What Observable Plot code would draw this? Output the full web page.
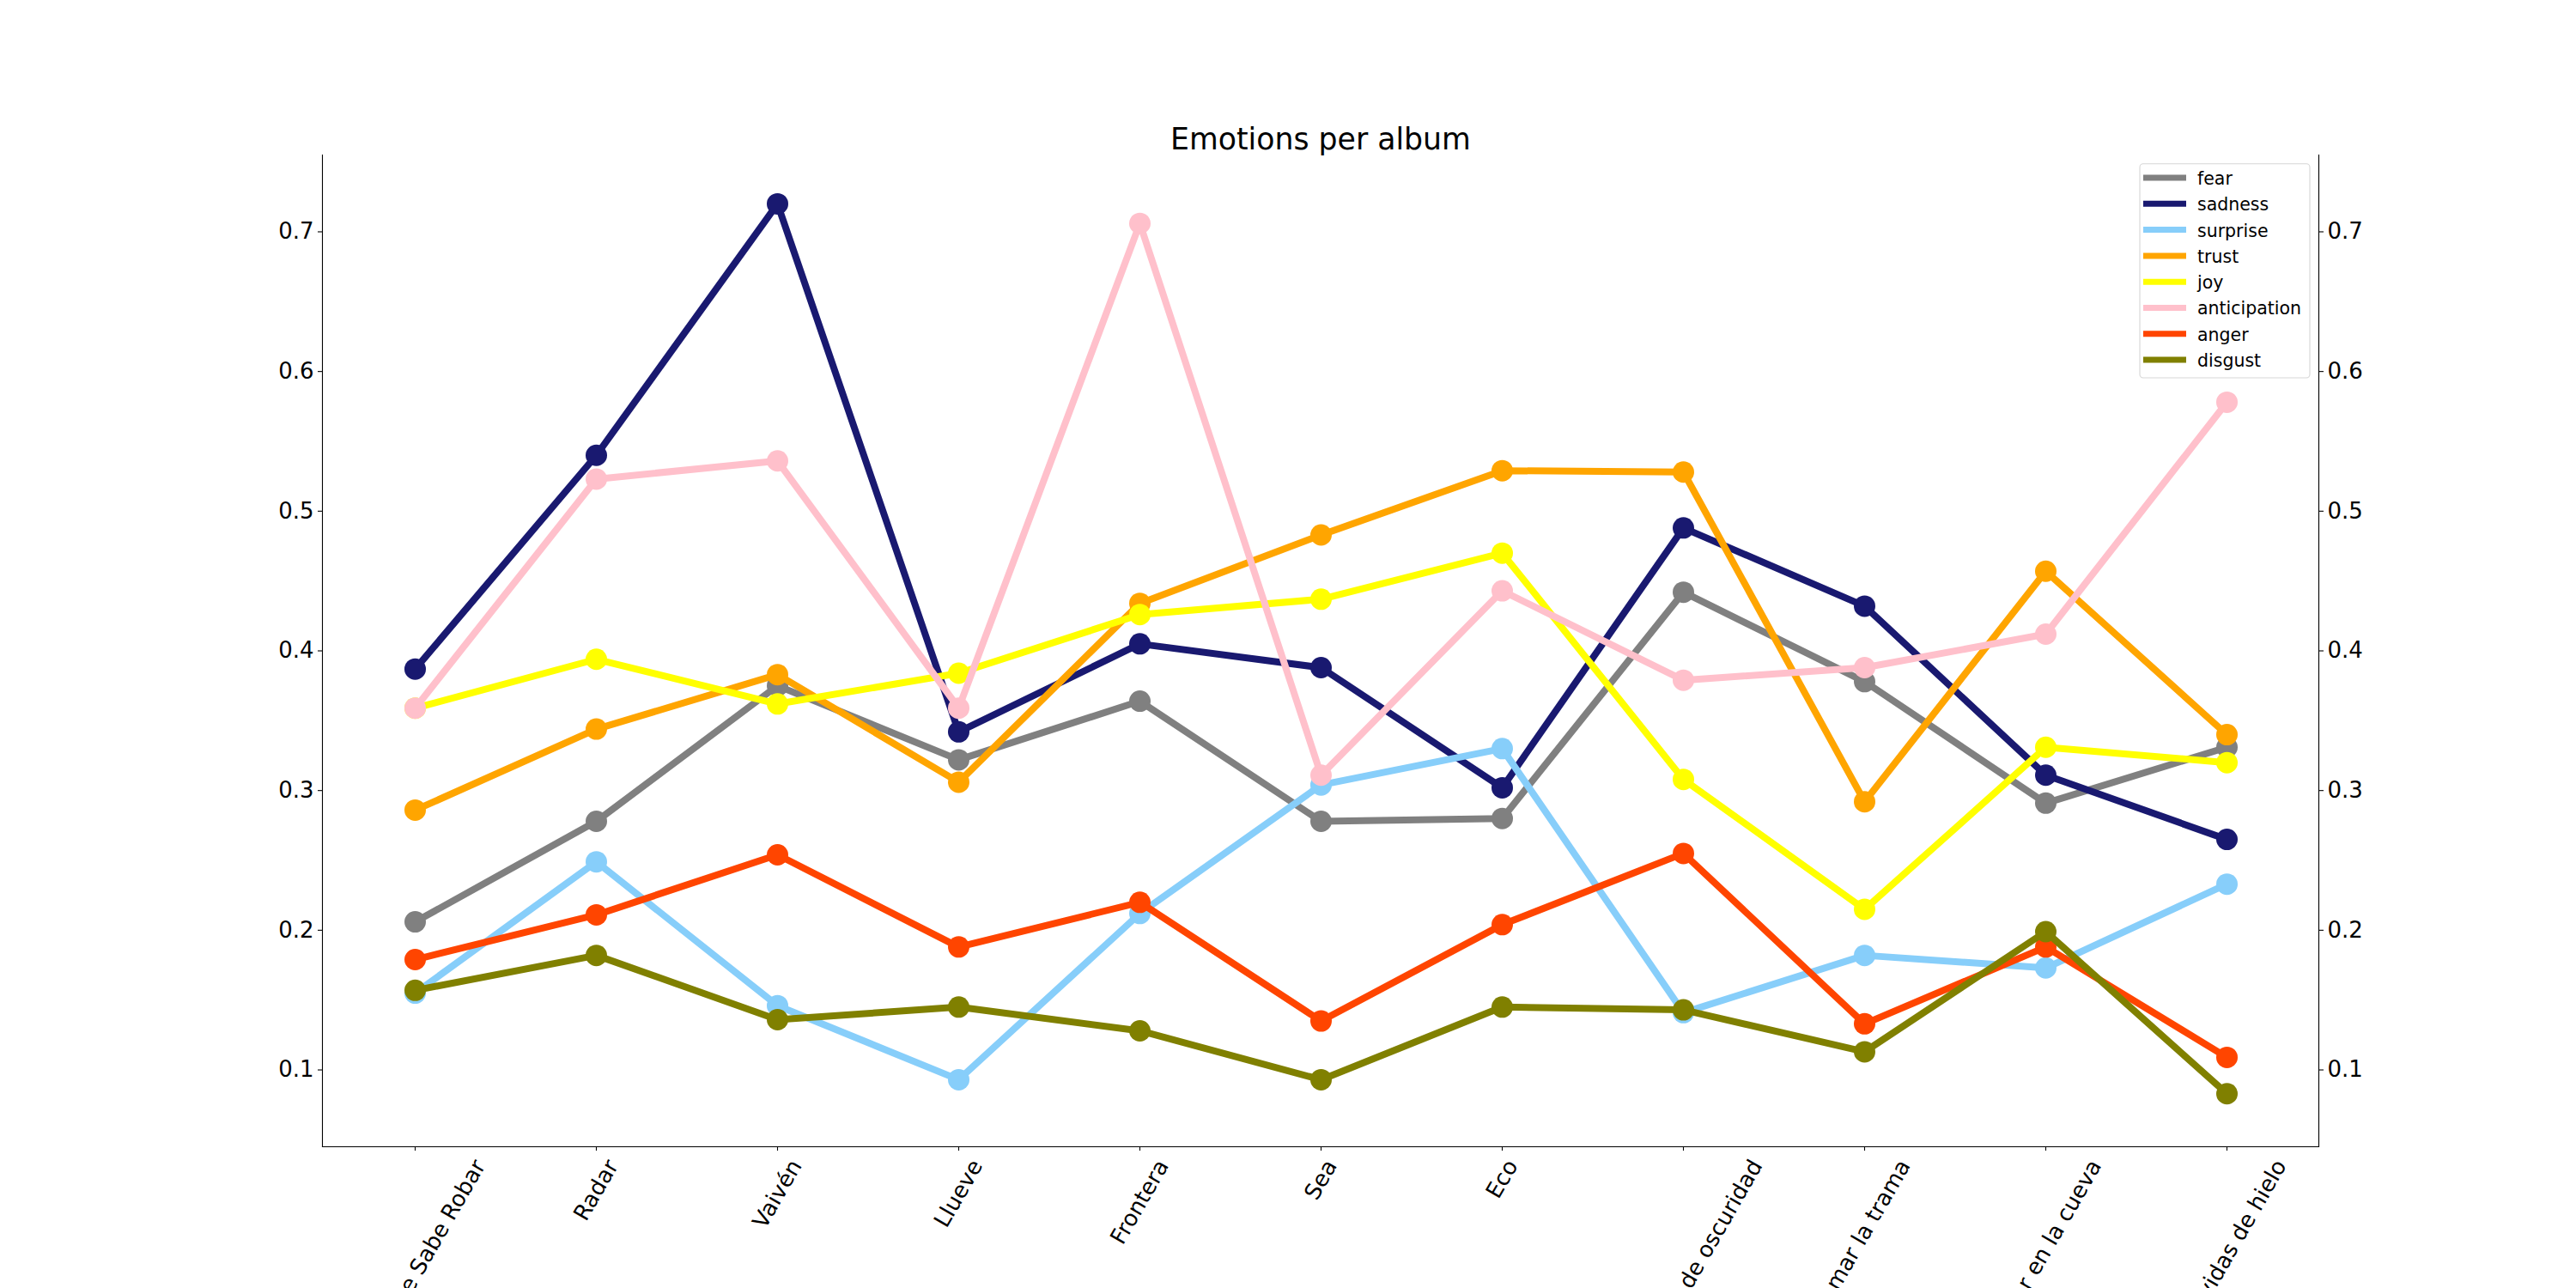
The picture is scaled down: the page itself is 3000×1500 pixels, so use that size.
<!DOCTYPE html>
<html>
<head>
<meta charset="utf-8">
<script src="https://cdn.jsdelivr.net/npm/d3@7"></script>
<script src="https://cdn.jsdelivr.net/npm/@observablehq/plot@0.6"></script>
<style>
  html, body { margin: 0; padding: 0; background: white; }
  #chart { position: relative; width: 3000px; height: 1500px; overflow: hidden; }
</style>
</head>
<body>
<div id="chart"></div>
<script>
const albums = ["La Luz Que Sabe Robar", "Radar", "Vaivén", "Llueve", "Frontera", "Sea", "Eco",
  "12 segundos de oscuridad", "Amar la trama", "Bailar en la cueva", "Salvavidas de hielo"];
const emotions = ["fear", "sadness", "surprise", "trust", "joy", "anticipation", "anger", "disgust"];
const colors = ["grey", "midnightblue", "lightskyblue", "orange", "yellow", "pink", "orangered", "olive"];

const fear         = [0.206, 0.278, 0.375, 0.322, 0.364, 0.278, 0.280, 0.442, 0.378, 0.291, 0.331];
const sadness      = [0.387, 0.540, 0.720, 0.342, 0.405, 0.388, 0.302, 0.488, 0.432, 0.311, 0.265];
const surprise     = [0.155, 0.249, 0.146, 0.093, 0.212, 0.304, 0.330, 0.141, 0.182, 0.173, 0.233];
const trust        = [0.286, 0.344, 0.383, 0.306, 0.434, 0.483, 0.529, 0.528, 0.292, 0.457, 0.340];
const joy          = [0.359, 0.394, 0.362, 0.384, 0.426, 0.437, 0.470, 0.308, 0.215, 0.331, 0.320];
const anticipation = [0.359, 0.523, 0.536, 0.359, 0.706, 0.311, 0.443, 0.379, 0.388, 0.412, 0.578];
const anger        = [0.179, 0.211, 0.254, 0.188, 0.220, 0.135, 0.204, 0.255, 0.133, 0.188, 0.109];
const disgust      = [0.157, 0.182, 0.136, 0.145, 0.128, 0.093, 0.145, 0.143, 0.113, 0.199, 0.083];

const yTicks = [0.1, 0.2, 0.3, 0.4, 0.5, 0.6, 0.7];
const yDomain = [0.045, 0.755];
const title = "Emotions per album";

const seriesValues = [fear, sadness, surprise, trust, joy, anticipation, anger, disgust];

const seriesMarks = [];
emotions.forEach((name, i) => {
  const rows = albums.map((a, j) => ({album: a, value: seriesValues[i][j], emotion: name}));
  seriesMarks.push(Plot.line(rows, {x: "album", y: "value", stroke: colors[i], strokeWidth: 8,
    strokeLinejoin: "round", strokeLinecap: "round"}));
  seriesMarks.push(Plot.dot(rows, {x: "album", y: "value", fill: colors[i], r: 12.5, stroke: null}));
});

const tickFont = 26;
const plot = Plot.plot({
  width: 3000,
  height: 1500,
  marginLeft: 375,
  marginRight: 300,
  marginTop: 180,
  marginBottom: 165,
  x: {type: "point", domain: albums, padding: 0.5},
  y: {domain: yDomain},
  style: {fontFamily: "DejaVu Sans", fontSize: tickFont + "px", background: "white", color: "black", overflow: "visible"},
  marks: [
    Plot.frame({anchor: "left", stroke: "black", strokeWidth: 1.1}),
    Plot.frame({anchor: "right", stroke: "black", strokeWidth: 1.1}),
    Plot.frame({anchor: "bottom", stroke: "black", strokeWidth: 1.1}),
    Plot.axisY({anchor: "left", ticks: yTicks, tickSize: 5, tickPadding: 5, label: null,
      fontSize: tickFont, strokeWidth: 1.1, tickFormat: d => d.toFixed(1)}),
    Plot.axisY({anchor: "right", ticks: yTicks, tickSize: 5, tickPadding: 5, label: null,
      fontSize: tickFont, strokeWidth: 1.1, tickFormat: d => d.toFixed(1)}),
    Plot.axisX({tickSize: 5, tickPadding: 5, tickRotate: -60, textAnchor: "middle", lineAnchor: "middle",
      label: null, fontSize: tickFont, strokeWidth: 1.1}),
    ...seriesMarks,
    Plot.text([title], {frameAnchor: "top", lineAnchor: "bottom", dy: -6.7, fontSize: 34.7, fill: "black"})
  ]
});

const container = document.getElementById("chart");
container.appendChild(plot);

// matplotlib-style alignment of rotated x tick labels: the rotated bounding box is
// centred on the tick and its top sits just below the tick.
const svg = d3.select(plot);
svg.selectAll('g[aria-label="x-axis tick label"] text').each(function() {
  const len = this.getComputedTextLength();
  const a = 60 * Math.PI / 180;
  const boxH = len * Math.sin(a) + 1.164 * tickFont * Math.cos(a);
  const old = this.getAttribute("transform") || "";
  this.setAttribute("transform", `translate(0,${boxH / 2}) ${old}`);
});

// Legend (upper right, inside the axes)
const lg = {x: 2492, y: 190.7, w: 198, h: 249.3, row0: 207, step: 30.3, hx0: 2496, hx1: 2546, tx: 2559, font: 20.5};
const legend = svg.append("g").attr("aria-label", "legend");
legend.append("rect")
  .attr("x", lg.x).attr("y", lg.y).attr("width", lg.w).attr("height", lg.h)
  .attr("rx", 4).attr("fill", "white").attr("fill-opacity", 0.8)
  .attr("stroke", "#cccccc").attr("stroke-opacity", 0.8).attr("stroke-width", 1.1);
emotions.forEach((name, i) => {
  const cy = lg.row0 + i * lg.step;
  legend.append("line").attr("x1", lg.hx0).attr("x2", lg.hx1).attr("y1", cy).attr("y2", cy)
    .attr("stroke", colors[i]).attr("stroke-width", 7);
  legend.append("text").attr("x", lg.tx).attr("y", cy).attr("dy", "0.39em")
    .attr("text-anchor", "start")
    .attr("font-family", "DejaVu Sans").attr("font-size", lg.font).attr("fill", "black").text(name);
});
</script>
</body>
</html>
